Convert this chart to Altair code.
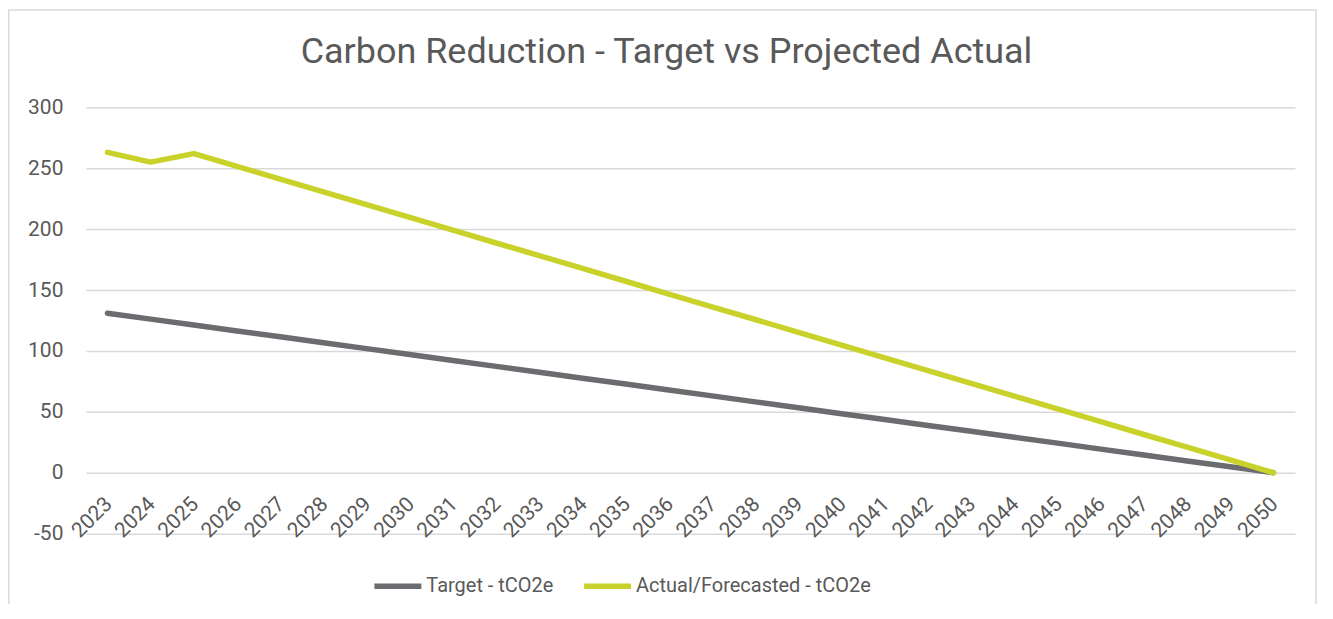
import altair as alt
import pandas as pd

years = [str(y) for y in range(2023, 2051)]
target = [131.0, 126.1, 121.3, 116.4, 111.6, 106.7, 101.9, 97.0, 92.2, 87.3,
          82.5, 77.6, 72.8, 67.9, 63.1, 58.2, 53.4, 48.5, 43.7, 38.8,
          34.0, 29.1, 24.3, 19.4, 14.6, 9.7, 4.9, 0.0]
actual = [263.0, 255.0, 262.0, 251.5, 241.0, 230.6, 220.1, 209.6, 199.1, 188.6,
          178.2, 167.7, 157.2, 146.7, 136.2, 125.8, 115.3, 104.8, 94.3, 83.8,
          73.4, 62.9, 52.4, 41.9, 31.4, 21.0, 10.5, 0.0]
series_names = ["Target - tCO2e", "Actual/Forecasted - tCO2e"]
y_ticks = [-50, 0, 50, 100, 150, 200, 250, 300]

rows = []
for i, y in enumerate(years):
    rows.append({"year": y, "series": series_names[0], "value": target[i]})
for i, y in enumerate(years):
    rows.append({"year": y, "series": series_names[1], "value": actual[i]})
df = pd.DataFrame(rows)

FONT = "Roboto"
TXT = "#595959"
GRID = "#d9d9d9"

lines = alt.Chart(df).mark_line(strokeWidth=5.5, strokeCap="round", strokeJoin="round").encode(
    x=alt.X("year:O", sort=years, scale=alt.Scale(type="point", padding=0.5),
            axis=alt.Axis(title=None, labelAngle=-45, labelAlign="right", labelBaseline="middle",
                          labelPadding=28, labelOffset=1, domain=False, ticks=False, tickSize=0,
                          offset=-61, labelFontSize=21, labelColor=TXT, labelFont=FONT, grid=False)),
    y=alt.Y("value:Q", scale=alt.Scale(domain=[-50, 300], nice=False, zero=False),
            axis=alt.Axis(title=None, values=y_ticks, labelExpr="'' + datum.value",
                          domain=False, ticks=False, tickSize=0, labelPadding=23,
                          labelFontSize=21, labelColor=TXT, labelFont=FONT,
                          grid=True, gridColor=GRID, gridWidth=1.5)),
    color=alt.Color("series:N", sort=series_names,
                    scale=alt.Scale(domain=series_names, range=["#6b6b70", "#c8d22b"]),
                    legend=alt.Legend(title=None, orient="none", legendX=286, legendY=453,
                                      direction="horizontal", symbolType="stroke",
                                      symbolSize=2209, symbolStrokeWidth=5.5,
                                      labelFontSize=20, labelFont=FONT, labelColor=TXT,
                                      labelOffset=2, labelLimit=500, columnPadding=19)),
)

border = alt.Chart(pd.DataFrame({"b": [1]})).mark_rect(
    fill="transparent", stroke=GRID, strokeWidth=1.5
).encode(
    x=alt.value(-77.2), x2=alt.value(1232), y=alt.value(-97.5), y2=alt.value(700)
)

chart = alt.layer(border, lines).properties(
    width=1211, height=427,
    autosize=alt.AutoSizeParams(type="none"),
    padding={"left": 78, "top": 99, "right": 30, "bottom": 70},
    title=alt.Title("Carbon Reduction - Target vs Projected Actual", fontSize=36,
                    fontWeight="normal", font=FONT, color=TXT, anchor="middle",
                    frame="group", dx=-24, offset=0, dy=62),
).configure_view(stroke=None)

chart.save("out.html", embed_options={"renderer": "svg", "actions": False})
